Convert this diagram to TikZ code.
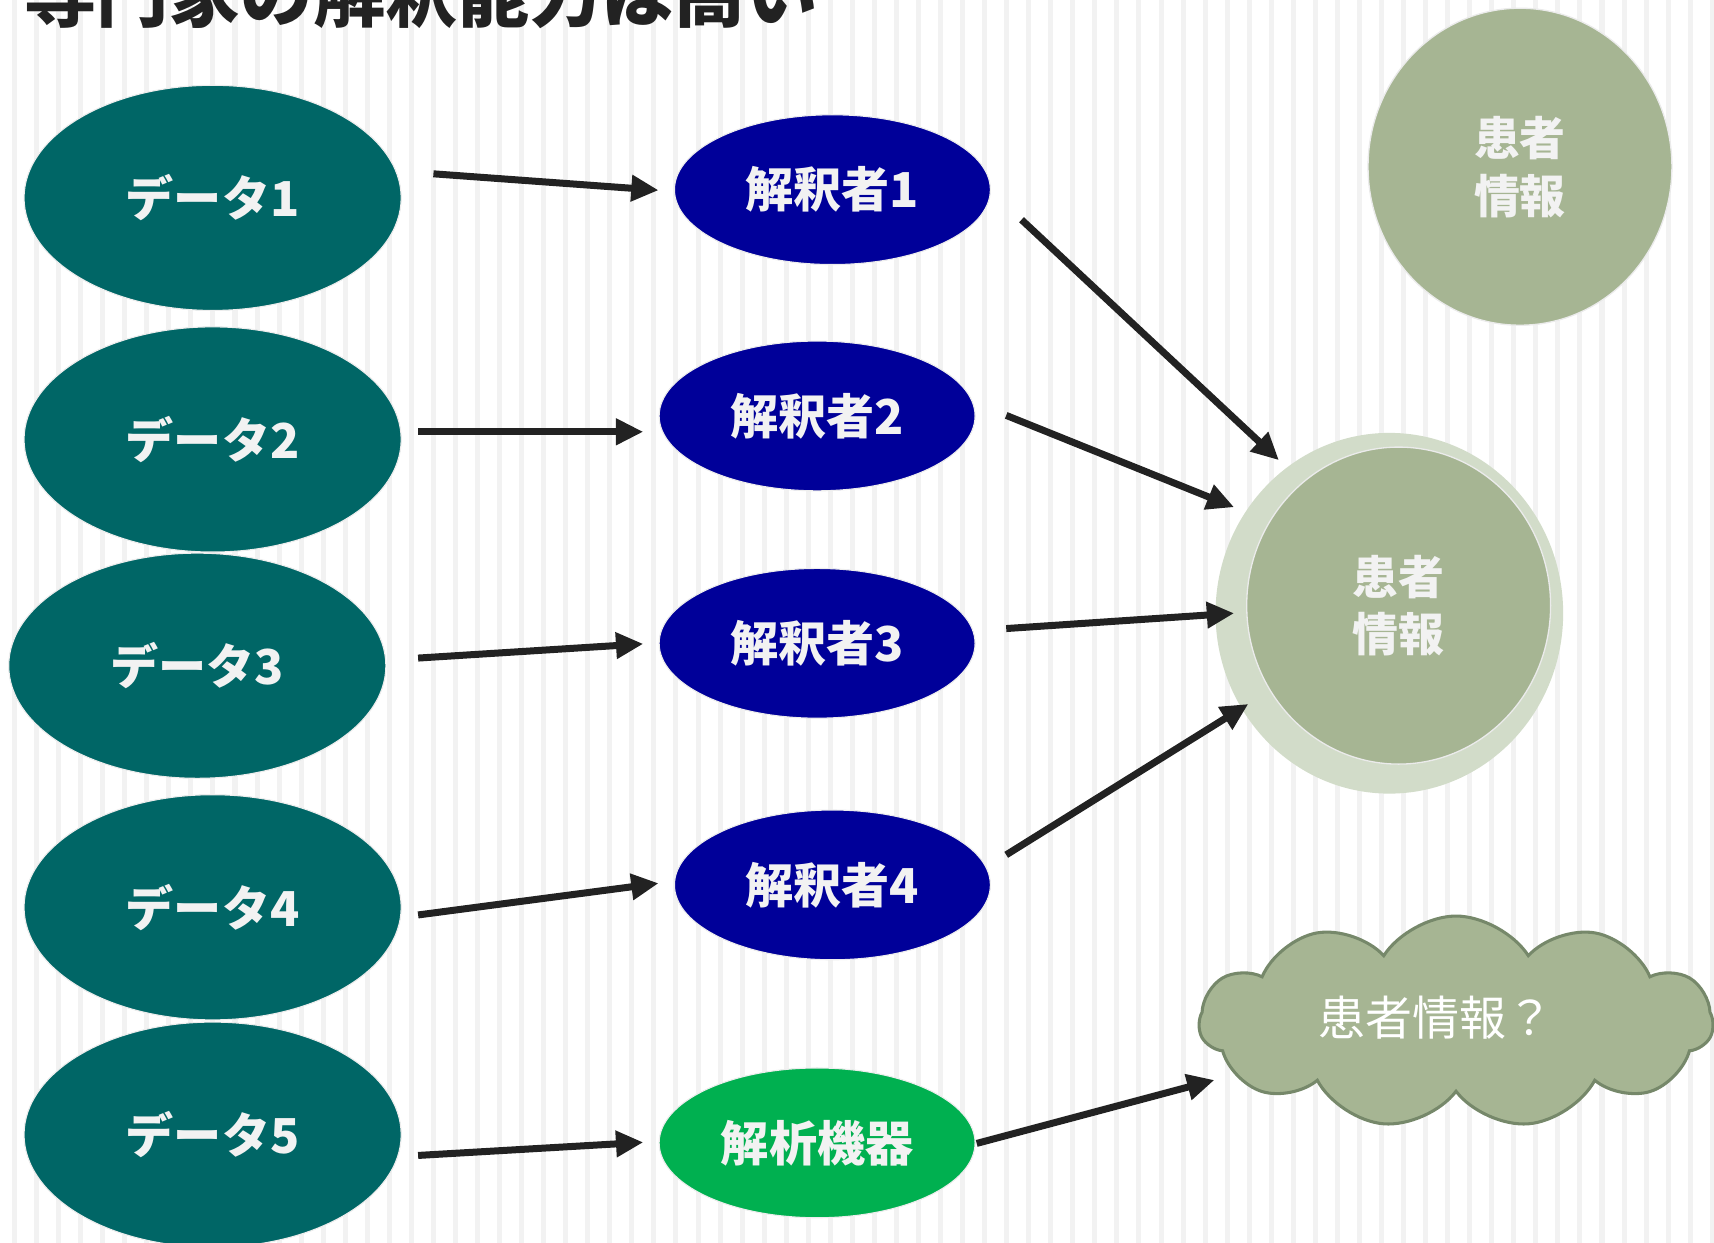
\documentclass[tikz,border=0pt]{standalone}
\usepackage{fontspec}
\setmainfont{Noto Sans CJK JP}
\usetikzlibrary{shapes.geometric,shapes.symbols,arrows.meta}
\definecolor{stripecol}{HTML}{F2F2F2}
\definecolor{datacol}{HTML}{006666}
\definecolor{interpcol}{HTML}{000099}
\definecolor{machinecol}{HTML}{00B050}
\definecolor{circcol}{HTML}{A6B593}
\definecolor{glowcol}{HTML}{D2DCC9}
\definecolor{cloudline}{HTML}{76886A}
\definecolor{labelcol}{HTML}{F2F2F2}
\definecolor{arrowcol}{HTML}{222222}
\definecolor{titlecol}{HTML}{222222}
\begin{document}
\begin{tikzpicture}[x=0.5pt,y=-0.5pt,
  labelfont/.style={text=labelcol, font=\bfseries\fontsize{22}{26}\selectfont},
  datanode/.style={ellipse, fill=datacol, draw=white!93!black, line width=0.5pt,
    minimum width=172.5pt, minimum height=103pt, inner sep=0pt, labelfont},
  interpnode/.style={ellipse, fill=interpcol, draw=white!93!black, line width=0.5pt,
    minimum width=144.5pt, minimum height=68.5pt, inner sep=0pt, labelfont},
  machinenode/.style={interpnode, fill=machinecol},
  circnode/.style={ellipse, fill=circcol, draw=white!92!black, line width=0.6pt,
    minimum width=139pt, minimum height=145pt, inner sep=0pt, align=center,
    text=labelcol, font=\bfseries\fontsize{21}{26.5}\selectfont},
  cloudnode/.style={cloud, cloud puffs=11, cloud puff arc=115, aspect=2.4,
    fill=circcol, draw=cloudline, line width=1.4pt,
    minimum width=235pt, minimum height=97pt, inner sep=0pt},
  cloudtext/.style={text=white, font=\fontsize{21.5}{25}\selectfont, inner sep=0pt},
  arr/.style={draw=arrowcol, line width=3.2pt, -{Triangle[length=12.5pt,width=11.5pt]}}
]
\useasboundingbox (0,0) rectangle (1568,1137);
\begin{scope}
\clip (0,0) rectangle (1568,1137);
\fill[white] (0,0) rectangle (1568,1137);
\foreach \i in {0,...,77}
  \fill[stripecol] ({10.98+20.17*\i},0) rectangle ++(4.6,1137);

% title (cut off at the top, as in the reference)
\node[anchor=base west, inner sep=0pt, text=titlecol,
  font=\bfseries\fontsize{33}{33}\selectfont] (title) at (22,20) {専門家の解釈能力は高い};

% data nodes
\node[datanode] (d1) at (194.5,181) {データ1};
\node[datanode] (d2) at (194.5,402) {データ2};
\node[datanode] (d3) at (180.5,609) {データ3};
\node[datanode] (d4) at (194.5,830) {データ4};
\node[datanode] (d5) at (194.5,1038) {データ5};

% interpreters
\node[interpnode] (i1) at (761.5,173.5) {解釈者1};
\node[interpnode] (i2) at (747.5,380.5) {解釈者2};
\node[interpnode] (i3) at (747.5,588.5) {解釈者3};
\node[interpnode] (i4) at (761.5,809.5) {解釈者4};
\node[machinenode] (m) at (747.5,1045.5) {解析機器};

% patient information circles
\node[circnode] (pa) at (1390.5,152.5) {患者\\情報};
\fill[glowcol] (1271,561) ellipse [x radius=159, y radius=165];
\node[circnode] (pb) at (1279.5,554) {患者\\情報};

% cloud
\node[cloudnode] (cl) at (1332,935) {};
\node[cloudtext] (clt) at (1314,931) {患者情報？};

% arrows data -> interpreters
\draw[arr] ([shift={(29,-22)}]d1.east) -- ([shift={(-14,0.5)}]i1.west);
\draw[arr] ([shift={(15,-7)}]d2.east) -- ([shift={(-14,14.5)}]i2.west);
\draw[arr] ([shift={(29,-7)}]d3.east) -- ([shift={(-14,0.5)}]i3.west);
\draw[arr] ([shift={(15,7)}]d4.east) -- ([shift={(-14,-1.5)}]i4.west);
\draw[arr] ([shift={(15,19)}]d5.east) -- ([shift={(-14,-0.5)}]m.west);

% arrows interpreters -> patient info
\draw[arr] ([shift={(28,27.5)}]i1.east) -- ([shift={(-109.5,-133)}]pb.center);
\draw[arr] ([shift={(28,-0.5)}]i2.east) -- ([shift={(-150.5,-90)}]pb.center);
\draw[arr] ([shift={(28,-13.5)}]i3.east) -- ([shift={(-150.5,7)}]pb.center);
\draw[arr] ([shift={(14,-27.5)}]i4.east) -- ([shift={(-137.5,90)}]pb.center);
\draw[arr] ([shift={(1,0.5)}]m.east) -- ([shift={(-221,53)}]cl.center);
\end{scope}
\end{tikzpicture}
\end{document}
